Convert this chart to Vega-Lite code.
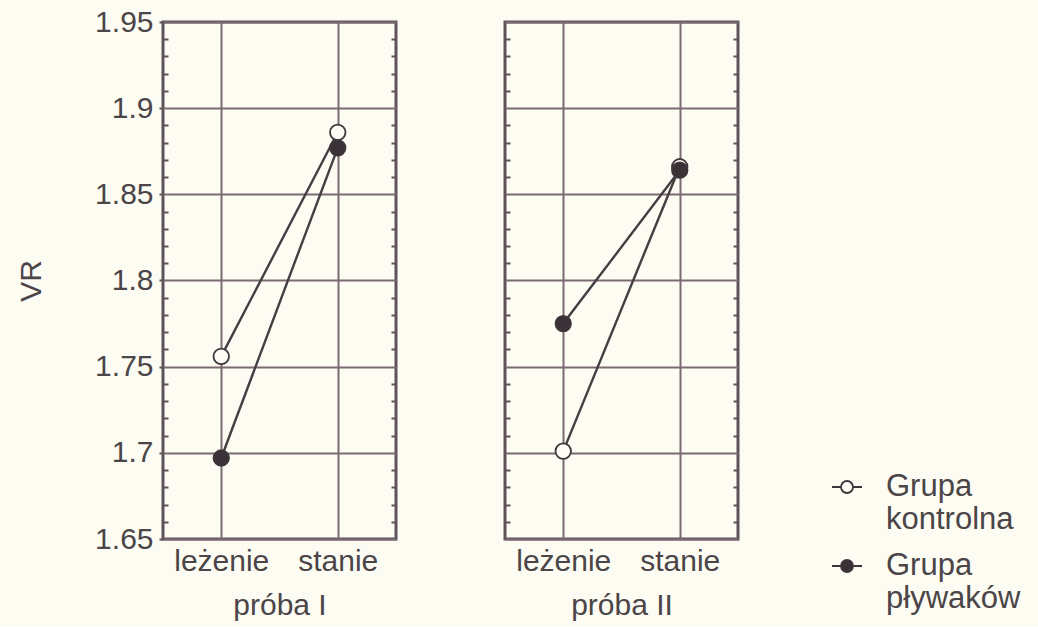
{
  "$schema": "https://vega.github.io/schema/vega-lite/v6.json",
  "background": "#fcfcf3",
  "padding": {"left": 15, "top": 5, "right": 20, "bottom": 4},
  "datasets": {
    "vr": [
      {"proba": "I", "pozycja": "leżenie", "grupa": "Grupa kontrolna", "VR": 1.756},
      {"proba": "I", "pozycja": "stanie", "grupa": "Grupa kontrolna", "VR": 1.886},
      {"proba": "II", "pozycja": "leżenie", "grupa": "Grupa kontrolna", "VR": 1.701},
      {"proba": "II", "pozycja": "stanie", "grupa": "Grupa kontrolna", "VR": 1.866},
      {"proba": "I", "pozycja": "leżenie", "grupa": "Grupa pływaków", "VR": 1.697},
      {"proba": "I", "pozycja": "stanie", "grupa": "Grupa pływaków", "VR": 1.877},
      {"proba": "II", "pozycja": "leżenie", "grupa": "Grupa pływaków", "VR": 1.775},
      {"proba": "II", "pozycja": "stanie", "grupa": "Grupa pływaków", "VR": 1.864}
    ]
  },
  "data": {"name": "vr"},
  "spacing": 103,
  "hconcat": [
    {
      "width": 233,
      "height": 517,
      "transform": [{"filter": "datum.proba === 'I'"}],
      "layer": [
        {
          "mark": {"type": "line", "color": "#463d42", "strokeWidth": 2.4},
          "encoding": {
            "x": {"field": "pozycja", "type": "nominal", "sort": ["leżenie", "stanie"],
              "scale": {"type": "point", "padding": 0.5},
              "axis": {"title": "próba I", "labelAngle": 0, "ticks": false, "grid": true, "labelPadding": 7, "titlePadding": 14}},
            "y": {"field": "VR", "type": "quantitative",
              "scale": {"domain": [1.65, 1.95], "zero": false, "nice": false},
              "axis": {"orient": "left", "title": "VR", "titlePadding": 48, "labelPadding": 6,
                "values": [1.65,1.66,1.67,1.68,1.69,1.7,1.71,1.72,1.73,1.74,1.75,1.76,1.77,1.78,1.79,1.8,1.81,1.82,1.83,1.84,1.85,1.86,1.87,1.88,1.89,1.9,1.91,1.92,1.93,1.94,1.95],
                "labelExpr": "abs(datum.value*20-round(datum.value*20))<0.001 ? format(datum.value, '.3~g') : ''",
                "gridOpacity": {"condition": {"test": "abs(datum.value*20-round(datum.value*20))<0.001", "value": 1}, "value": 0},
                "tickSize": {"condition": {"test": "abs(datum.value*20-round(datum.value*20))<0.001", "value": 4}, "value": -5}}},
            "detail": {"field": "grupa"}
          }
        },
        {
          "mark": {"type": "point", "filled": true, "shape": "circle", "size": 240, "stroke": "#3e363a", "strokeWidth": 1.8, "opacity": 1},
          "encoding": {
            "x": {"field": "pozycja", "type": "nominal", "sort": ["leżenie", "stanie"]},
            "y": {"field": "VR", "type": "quantitative",
              "axis": {"orient": "right", "title": null, "labels": false, "grid": false, "tickSize": -5,
                "values": [1.66,1.67,1.68,1.69,1.71,1.72,1.73,1.74,1.76,1.77,1.78,1.79,1.81,1.82,1.83,1.84,1.86,1.87,1.88,1.89,1.91,1.92,1.93,1.94]}},
            "fill": {"field": "grupa", "type": "nominal",
              "scale": {"domain": ["Grupa kontrolna", "Grupa pływaków"], "range": ["#fdfdf6", "#3a3236"]},
              "legend": {"title": null, "orient": "none", "legendX": 668, "legendY": 449,
                "symbolType": "M-1,0L-0.4,0M0.4,0L1,0M-0.4,0A0.4,0.4,0,1,1,0.4,0A0.4,0.4,0,1,1,-0.4,0Z",
                "symbolSize": 900, "symbolStrokeColor": "#3e363a", "symbolStrokeWidth": 1.8,
                "labelFontSize": 31, "labelColor": "#4b4548", "labelFont": "Liberation Sans",
                "labelExpr": "split(datum.label, ' ')", "labelLimit": 300, "rowPadding": 15, "labelOffset": 23}}
          }
        }
      ],
      "resolve": {"axis": {"y": "independent"}}
    },
    {
      "width": 233,
      "height": 517,
      "transform": [{"filter": "datum.proba === 'II'"}],
      "layer": [
        {
          "mark": {"type": "line", "color": "#463d42", "strokeWidth": 2.4},
          "encoding": {
            "x": {"field": "pozycja", "type": "nominal", "sort": ["leżenie", "stanie"],
              "scale": {"type": "point", "padding": 0.5},
              "axis": {"title": "próba II", "labelAngle": 0, "ticks": false, "grid": true, "labelPadding": 7, "titlePadding": 14}},
            "y": {"field": "VR", "type": "quantitative",
              "scale": {"domain": [1.65, 1.95], "zero": false, "nice": false},
              "axis": {"orient": "left", "title": null, "labels": false,
                "values": [1.65,1.66,1.67,1.68,1.69,1.7,1.71,1.72,1.73,1.74,1.75,1.76,1.77,1.78,1.79,1.8,1.81,1.82,1.83,1.84,1.85,1.86,1.87,1.88,1.89,1.9,1.91,1.92,1.93,1.94,1.95],
                "gridOpacity": {"condition": {"test": "abs(datum.value*20-round(datum.value*20))<0.001", "value": 1}, "value": 0},
                "tickSize": {"condition": {"test": "abs(datum.value*20-round(datum.value*20))<0.001", "value": 0}, "value": -5}}},
            "detail": {"field": "grupa"}
          }
        },
        {
          "mark": {"type": "point", "filled": true, "shape": "circle", "size": 240, "stroke": "#3e363a", "strokeWidth": 1.8, "opacity": 1},
          "encoding": {
            "x": {"field": "pozycja", "type": "nominal", "sort": ["leżenie", "stanie"]},
            "y": {"field": "VR", "type": "quantitative",
              "axis": {"orient": "right", "title": null, "labels": false, "grid": false, "tickSize": -5,
                "values": [1.66,1.67,1.68,1.69,1.71,1.72,1.73,1.74,1.76,1.77,1.78,1.79,1.81,1.82,1.83,1.84,1.86,1.87,1.88,1.89,1.91,1.92,1.93,1.94]}},
            "fill": {"field": "grupa", "type": "nominal"}
          }
        }
      ],
      "resolve": {"axis": {"y": "independent"}}
    }
  ],
  "config": {
    "font": "Liberation Sans",
    "view": {"stroke": "#5f5258", "strokeWidth": 3},
    "axis": {
      "labelFont": "Liberation Sans", "labelFontSize": 30, "labelColor": "#4b4548",
      "titleFont": "Liberation Sans", "titleFontSize": 30, "titleFontWeight": "normal", "titleColor": "#4b4548",
      "gridColor": "#7a6b72", "gridWidth": 2, "domain": false,
      "tickColor": "#5f5258", "tickWidth": 2
    }
  }
}
